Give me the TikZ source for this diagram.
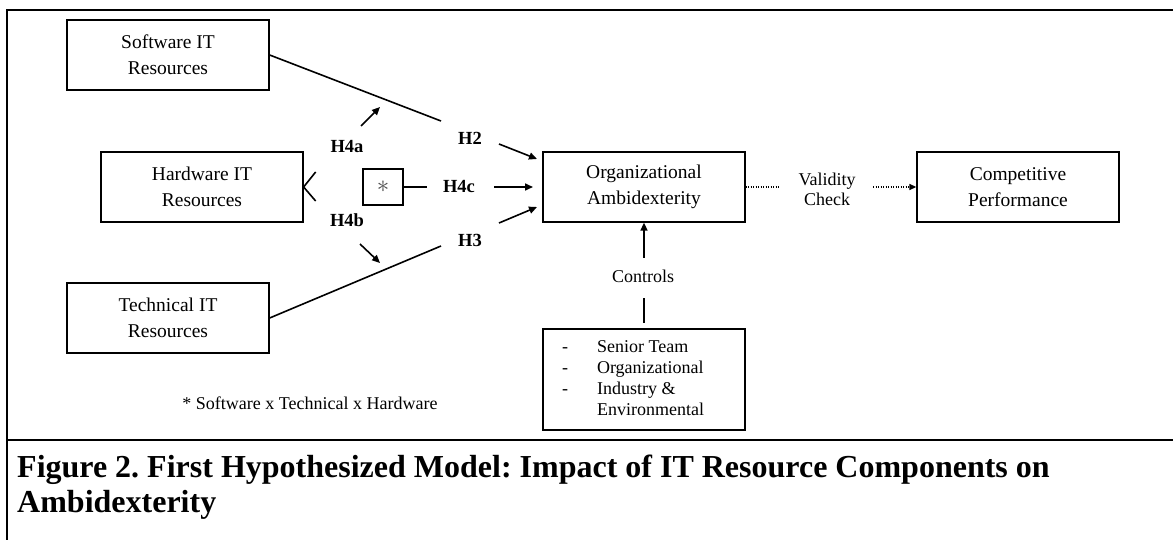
\documentclass[tikz,border=0pt]{standalone}
\usepackage{fontspec}
\setmainfont{Liberation Serif}
\frenchspacing
\usetikzlibrary{arrows.meta}
\begin{document}
\begin{tikzpicture}[x=1pt,y=-1pt,
  box/.style={draw, line width=1.3pt, minimum width=202pt, minimum height=70pt,
    align=center, inner sep=0pt, font=\fontsize{19.5}{26}\selectfont},
  hyp/.style={inner sep=0pt, font=\fontsize{18.5}{22}\selectfont\bfseries},
  note/.style={inner sep=0pt, font=\fontsize{18}{20}\selectfont},
  link/.style={line width=1.6pt},
  arr/.style={line width=1.6pt, -{Triangle[length=8pt,width=7pt]}},
  dots/.style={line width=1.3pt, dash pattern=on 1.2pt off 1.3pt},
  frameline/.style={line width=2.3pt},
  capt/.style={anchor=base west, inner sep=0pt, font=\fontsize{32}{36}\selectfont\bfseries}
]
\useasboundingbox (0,0) rectangle (1173,540);

% figure frame and caption rule
\draw[frameline] (7,540) -- (7,10) -- (1173,10);
\draw[frameline] (7,440) -- (1173,440);

% constructs
\node[box] (sw)   at (168,55)  {Software IT\\Resources};
\node[box] (hw)   at (202,187) {Hardware IT\\Resources};
\node[box] (tc)   at (168,318) {Technical IT\\Resources};
\node[box] (org)  at (644,187) {Organizational\\Ambidexterity};
\node[box] (comp) at (1018,187) {Competitive\\Performance};
\node[draw, line width=1.3pt, minimum width=40pt, minimum height=36pt, inner sep=0pt,
      text=black!70, font=\fontsize{26}{26}\selectfont] (star) at (383,187) {$\ast$};
\node[draw, line width=1.3pt, minimum width=202pt, minimum height=101pt, inner sep=0pt,
      font=\fontsize{18}{21}\selectfont] (ctrl) at (644,379.5)
  {\begin{tabular}{@{}l@{\hspace{29pt}}l@{\hspace{22pt}}}
    - & Senior Team\\
    - & Organizational\\
    - & Industry \&\\
      & Environmental
   \end{tabular}};

% hypothesis labels
\node[hyp] (h2)  at (470,138) {H2};
\node[hyp] (h3)  at (470,240) {H3};
\node[hyp] (h4c) at (459,186) {H4c};
\node[hyp] (h4a) at (347,147) {H4a};
\node[hyp] (h4b) at (347,220) {H4b};

% other text
\node[note, align=center] (valid) at (827,189) {Validity\\Check};
\node[note] (controls) at (643,276) {Controls};
\node[note] (foot) at (310,403) {* Software x Technical x Hardware};
\node[capt] (cap1) at (17,477) {Figure 2. First Hypothesized Model: Impact of IT Resource Components on};
\node[capt] (cap2) at (17,512) {Ambidexterity};

% connector end points
\coordinate (swEnd) at (441,121);
\coordinate (tcEnd) at (441,246);
\coordinate (h2s) at (499,144);  \coordinate (h2e) at (537,159);
\coordinate (h3s) at (499,223);  \coordinate (h3e) at (537,207);
\coordinate (h4cA) at (427,187);
\coordinate (h4cs) at (494,187); \coordinate (h4ce) at (533,187);
\coordinate (h4as) at (361,126); \coordinate (h4ae) at (380,107);
\coordinate (h4bs) at (360,244); \coordinate (h4be) at (380,263);
\coordinate (valL) at (779,187);  \coordinate (valR) at (873,187);
\coordinate (ctlUp) at (644,258); \coordinate (ctlDn) at (644,298);

% main effects
\draw[link] (sw.east) -- (swEnd);
\draw[link] (tc.east) -- (tcEnd);
\draw[arr] (h2s) -- (h2e);
\draw[arr] (h3s) -- (h3e);

% interaction
\draw[link] (star.east) -- (h4cA);
\draw[arr] (h4cs) -- (h4ce);
\draw[arr] (h4as) -- (h4ae);
\draw[arr] (h4bs) -- (h4be);
\draw[link] ([shift={(12,-15)}]hw.east) -- (hw.east) -- ([shift={(12,14)}]hw.east);

% validity check
\draw[dots] (org.east) -- (valL);
\draw[dots, -{Triangle[length=7pt,width=6pt]}] (valR) -- (comp.west);

% controls
\draw[arr] (ctlUp) -- (org.south);
\draw[link, shorten >=5pt] (ctlDn) -- (ctrl.north);
\end{tikzpicture}
\end{document}
